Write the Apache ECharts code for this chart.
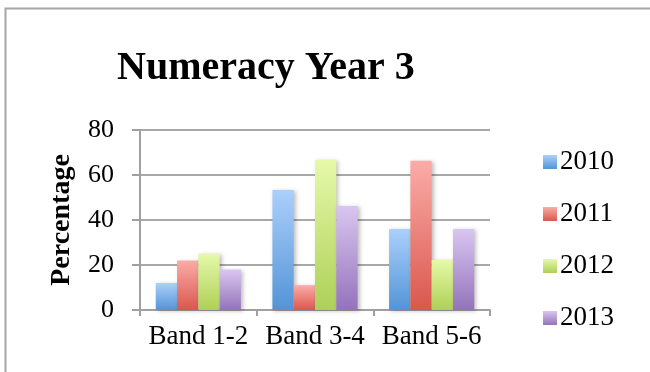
<!DOCTYPE html>
<html>
<head>
<meta charset="utf-8">
<script src="https://cdn.jsdelivr.net/npm/echarts@6/dist/echarts.min.js"></script>
<style>html,body{margin:0;padding:0;background:#fff;}#c{width:650px;height:372px;}</style>
</head>
<body>
<div id="c"></div>
<script>
const categories = ['Band 1-2', 'Band 3-4', 'Band 5-6'];
const seriesNames = ['2010', '2011', '2012', '2013'];
const v2010 = [12, 53.3, 36];
const v2011 = [22, 11, 66.3];
const v2012 = [25, 66.7, 22.2];
const v2013 = [18, 46.2, 36];
const yTicks = [0, 20, 40, 60, 80];

const values = [v2010, v2011, v2012, v2013];
const grads = [
  ['#abd0fb', '#5394d6'],
  ['#fbaca8', '#da574d'],
  ['#e6f9a9', '#aed057'],
  ['#d9c6f0', '#9473ba']
];
function grad(c) {
  return new echarts.graphic.LinearGradient(0, 0, 0, 1, [
    { offset: 0, color: c[0] }, { offset: 1, color: c[1] }
  ]);
}
const serif = '"Liberation Serif", "Times New Roman", serif';
const chart = echarts.init(document.getElementById('c'), null, { renderer: 'canvas' });
chart.setOption({
  animation: false,
  backgroundColor: '#fff',
  title: {
    text: 'Numeracy Year 3',
    left: 112, top: 44,
    textStyle: { fontFamily: serif, fontWeight: 'bold', fontSize: 40, color: '#000' }
  },
  graphic: [{
    type: 'rect', shape: { x: 5.5, y: 8.5, width: 760, height: 460 },
    style: { fill: 'none', stroke: '#a6a6a6', lineWidth: 2 }, silent: true
  }],
  legend: {
    orient: 'vertical', left: 538, top: 143,
    itemWidth: 14, itemHeight: 14, itemGap: 24,
    icon: 'rect',
    data: seriesNames,
    textStyle: { fontFamily: serif, fontSize: 27, color: '#000', lineHeight: 28, padding: [0, 0, 0, -2] }
  },
  grid: { left: 140, right: 160, top: 130, bottom: 62 },
  xAxis: {
    type: 'category', data: categories,
    axisLine: { lineStyle: { color: '#a0a0a0', width: 2 } },
    axisTick: { show: true, length: 6, lineStyle: { color: '#a0a0a0', width: 2 } },
    axisLabel: { interval: 0, fontFamily: serif, fontSize: 27, color: '#000', margin: 13 }
  },
  yAxis: {
    type: 'value', min: 0, max: 80, interval: 20,
    name: 'Percentage', nameLocation: 'middle', nameGap: 64, nameRotate: 90,
    nameTextStyle: { fontFamily: serif, fontWeight: 'bold', fontSize: 28, color: '#000' },
    axisLine: { show: true, lineStyle: { color: '#a0a0a0', width: 2 } },
    axisTick: { show: true, length: 8, lineStyle: { color: '#a0a0a0', width: 2 } },
    splitLine: { lineStyle: { color: '#a8a8a8', width: 2 } },
    axisLabel: {
      fontFamily: serif, fontSize: 26, color: '#000', margin: 26,
      formatter: function (v) { return yTicks.indexOf(v) >= 0 ? String(v) : ''; }
    }
  },
  series: seriesNames.map(function (n, i) {
    return {
      name: n, type: 'bar', data: values[i],
      barGap: '0%', barCategoryGap: '27%',
      itemStyle: {
        color: grad(grads[i]),
        shadowColor: 'rgba(0,0,0,0.25)', shadowBlur: 4, shadowOffsetX: 2, shadowOffsetY: 1
      }
    };
  })
});
</script>
</body>
</html>
